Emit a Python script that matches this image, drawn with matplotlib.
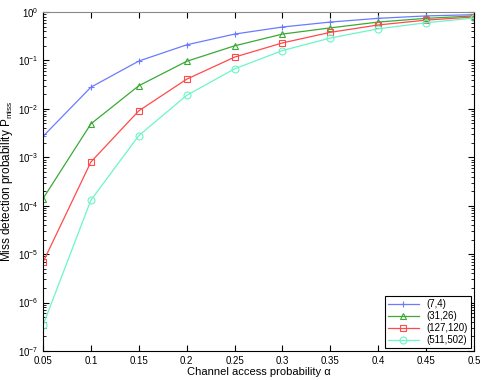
import numpy as np
import matplotlib.pyplot as plt
from matplotlib.ticker import LogLocator, NullFormatter

alpha = [0.05, 0.1, 0.15, 0.2, 0.25, 0.3, 0.35, 0.4, 0.45, 0.5]
codes = ["(7,4)", "(31,26)", "(127,120)", "(511,502)"]
p_7_4 = [2.7e-3, 0.028, 0.097, 0.21, 0.35, 0.49, 0.62, 0.74, 0.83, 0.88]
p_31_26 = [1.4e-4, 4.9e-3, 0.030, 0.096, 0.20, 0.35, 0.47, 0.62, 0.74, 0.83]
p_127_120 = [6.8e-6, 8.0e-4, 9.1e-3, 0.041, 0.117, 0.23, 0.38, 0.54, 0.68, 0.79]
p_511_502 = [3.4e-7, 1.3e-4, 2.8e-3, 0.019, 0.067, 0.16, 0.29, 0.45, 0.60, 0.75]
decades = [1e-7, 1e-6, 1e-5, 1e-4, 1e-3, 1e-2, 1e-1, 1e0]

series = [p_7_4, p_31_26, p_127_120, p_511_502]
colors = ["#6a7bff", "#3aaa35", "#ff4a4a", "#6cf5c8"]
markers = ["+", "^", "s", "o"]

plt.rcParams["font.family"] = ["Liberation Sans", "DejaVu Sans"]
plt.rcParams["mathtext.fontset"] = "custom"
plt.rcParams["mathtext.rm"] = "Liberation Sans"
plt.rcParams["mathtext.it"] = "Liberation Sans:italic"
fig = plt.figure(figsize=(4.85, 3.8), dpi=100)
ax = fig.add_axes([43 / 485, 29 / 380, 431 / 485, 339 / 380])

for y, c, m, lab in zip(series, colors, markers, codes):
    ax.semilogy(alpha, y, color=c, marker=m, markersize=5, linewidth=0.9,
                markerfacecolor="none", markeredgecolor=c, markeredgewidth=0.8,
                label=lab)

ax.set_xlim(0.05, 0.5)
ax.set_ylim(1e-7, 1)
ax.set_xticks(alpha)
ax.set_xticklabels(["0.05", "0.1", "0.15", "0.2", "0.25", "0.3", "0.35", "0.4", "0.45", "0.5"])
ax.set_yticks(decades)
ax.yaxis.set_minor_locator(LogLocator(base=10, subs=np.arange(2, 10)))
ax.yaxis.set_minor_formatter(NullFormatter())
ax.tick_params(which="both", direction="in", top=True, right=True, labelsize=7)
ax.tick_params(which="major", length=4)
ax.tick_params(which="minor", length=2)
ax.set_xlabel("Channel access probability α", fontsize=8, labelpad=1)
ax.set_ylabel(r"Miss detection probability P$_{\mathrm{miss}}$", fontsize=8.5, labelpad=2)
for s in ax.spines.values():
    s.set_linewidth(0.8)
ax.spines["top"].set_color("#888888")

leg = ax.legend(loc="lower right", fontsize=7, fancybox=False, framealpha=1,
                edgecolor="black", borderaxespad=0.3, handlelength=3.2,
                labelspacing=0.2, borderpad=0.3)
leg.get_frame().set_linewidth(0.8)

fig.savefig("out.png", dpi=100)
